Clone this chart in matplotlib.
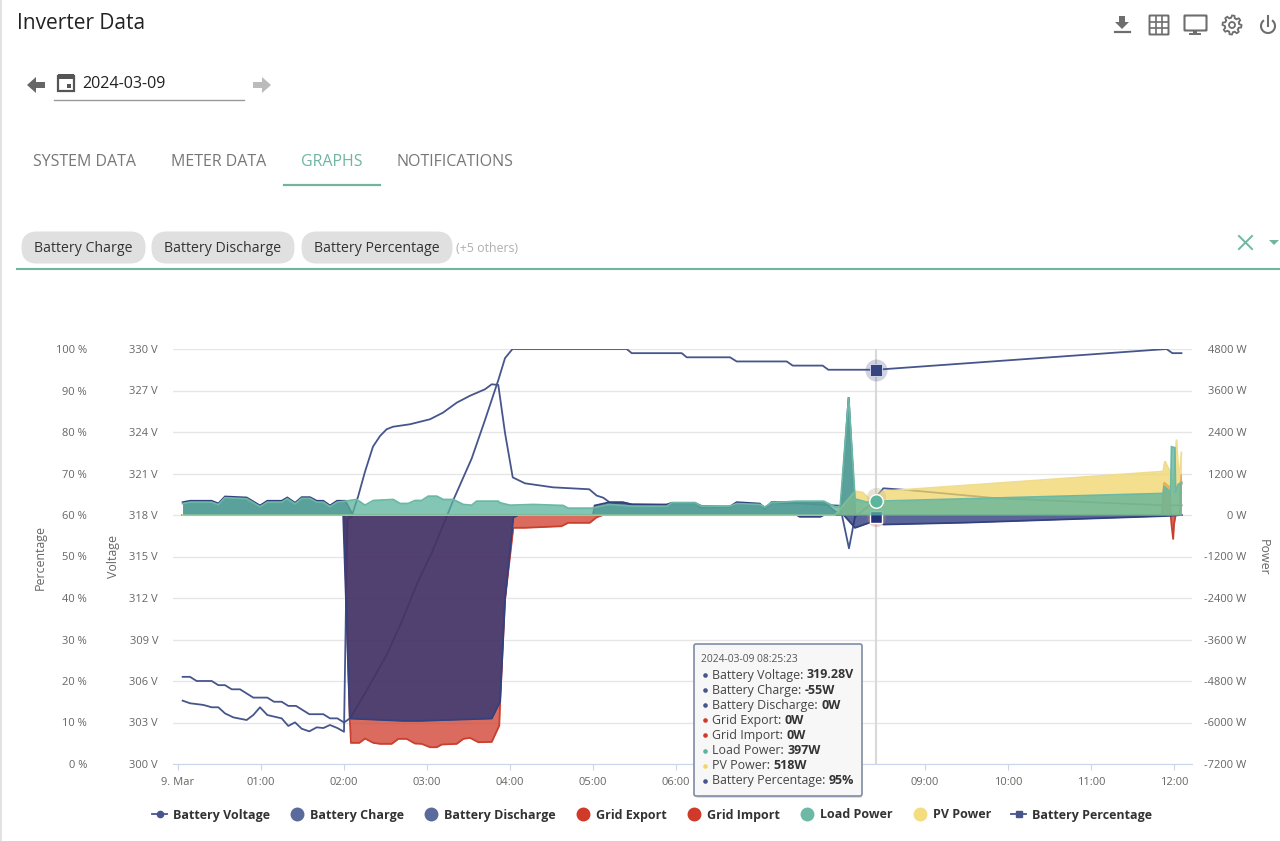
import numpy as np
import matplotlib
matplotlib.use('Agg')
import matplotlib.pyplot as plt
from matplotlib.lines import Line2D
from matplotlib.patches import FancyBboxPatch, Rectangle, Polygon, Circle, Arc

plt.rcParams['font.family'] = ['Open Sans', 'DejaVu Sans']

W, H = 1280, 841
# plot area in pixels
LEFT, RIGHT, TOP, BOTTOM = 173, 1192, 349, 764

NAVY = '#233377'
LINE = '#46568c'
RED = '#cf3a2a'
TEAL = '#5bb49c'
YELLOW = '#f1d569'
GREY = '#666666'

x_ticks = [0, 1, 2, 3, 4, 5, 6, 7, 8, 9, 10, 11, 12]
# 07:00 and 08:00 sit behind the tooltip in the screenshot
x_labels = ['9. Mar', '01:00', '02:00', '03:00', '04:00', '05:00', '06:00',
            '', '', '09:00', '10:00', '11:00', '12:00']
pct_ticks = [0, 10, 20, 30, 40, 50, 60, 70, 80, 90, 100]
volt_ticks = [300, 303, 306, 309, 312, 315, 318, 321, 324, 327, 330]
power_ticks = [-7200, -6000, -4800, -3600, -2400, -1200, 0, 1200, 2400, 3600, 4800]

# time is in hours since midnight
pct_t = [.056, .145, .225, .406, .486, .566, .647, .747, .907, 1.076, 1.157, 1.249, 1.329,
         1.422, 1.582, 1.751, 1.831, 1.92, 2.0, 2.072, 2.253, 2.514, 2.695, 2.89, 3.056,
         3.237, 3.317, 3.538, 3.699, 3.859, 3.94, 4.03, 5.406, 5.466, 6.069, 6.129, 6.651,
         6.731, 7.334, 7.406, 7.767, 7.835, 8.41, 11.91, 11.98, 12.09]
pct_v = [21, 21, 20, 20, 19, 19, 18, 18, 16, 16, 15, 15, 14, 14, 12, 12, 11, 11, 10, 11,
         17, 26.3, 34.3, 43.9, 50.8, 59.6, 63.6, 73.6, 82.9, 92.5, 97.8, 100, 100, 99,
         99, 98, 98, 97, 97, 96, 96, 95, 95, 100, 99, 99]

volt_t = [.056, .145, .306, .406, .486, .566, .667, .827, .907, .988, 1.076, 1.249, 1.329,
          1.41, 1.49, 1.582, 1.671, 1.751, 1.831, 1.92, 2.0, 2.04, 2.09, 2.169, 2.253, 2.349,
          2.434, 2.514, 2.59, 2.795, 3.036, 3.193, 3.358, 3.518, 3.699, 3.78, 3.859, 3.94,
          4.033, 4.18, 4.518, 4.955, 5.045, 5.124, 5.205, 5.36, 5.466, 5.888, 5.948, 6.229,
          6.31, 6.651, 6.731, 7.012, 7.072, 7.153, 7.454, 7.976, 8.008, 8.084, 8.157, 8.337,
          8.41, 8.498, 8.78, 9.863, 11.89, 12.09]
volt_v = [304.58, 304.39, 304.27, 304.1, 304.1, 303.66, 303.37, 303.18, 303.54, 304.1,
          303.54, 303.3, 302.75, 303.01, 302.55, 302.36, 302.65, 302.6, 302.82, 302.6,
          302.33, 317.7, 317.88, 319.32, 321.13, 322.94, 323.71, 324.2, 324.38, 324.56, 324.92,
          325.4, 326.12, 326.62, 327.09, 327.45, 327.4, 323.93, 320.72, 320.29, 320.0,
          319.86, 319.4, 319.25, 318.89, 318.89, 318.77, 318.72, 318.85, 318.85, 318.65,
          318.6, 318.85, 318.77, 318.55, 318.85, 318.85, 318.67, 317.75, 315.59, 317.88,
          318.72, 319.28, 319.93, 319.81, 319.21, 318.7, 318.7]

charge_t = [.056, 1.99, 2.07, 2.714, 2.916, 3.78, 3.88, 3.94, 4.04, 4.1, 7.454, 7.49, 7.74,
            7.78, 8.02, 8.157, 8.337, 8.41, 8.5, 9.5, 11.9, 12.09]
charge_v = [0, 0, -5885, -5953, -5953, -5885, -5403, -2444, -72, 0, 0, -50, -50, 0, 0,
            -370, -217, -55, -275, -220, -30, 0]

discharge_t = [.056, .145, .406, .486, .566, .827, .988, 1.076, 1.249, 1.317, 1.41, 1.49,
               1.59, 1.671, 1.751, 1.831, 1.916, 2.016, 2.108, 5.0, 5.02, 5.2, 5.36, 5.47,
               5.89, 5.95, 6.23, 6.31, 6.65, 6.73, 7.01, 7.07, 7.15, 7.45, 7.78, 7.92, 7.98,
               8.08, 8.16, 12.09]
discharge_v = [370, 411, 411, 333, 535, 506, 275, 411, 411, 506, 353, 515, 515, 411, 411,
               275, 411, 411, 0, 0, 275, 370, 370, 304, 304, 353, 353, 200, 246, 370, 330,
               170, 370, 370, 370, 100, 0, 3406, 0, 0]

grid_export_t = [.056, 11.85, 11.88, 11.95, 11.96, 12.07, 12.08, 12.09]
grid_export_v = [0, 0, 940, 795, 0, 0, 1170, 900]

grid_import_t = [.056, 2.0, 2.07, 2.084, 2.185, 2.253, 2.353, 2.434, 2.574, 2.655, 2.755, 2.855,
                 2.936, 3.036, 3.117, 3.177, 3.358, 3.438, 3.518, 3.618, 3.78, 3.871, 3.88,
                 3.94, 4.04, 4.18, 4.62, 4.70, 4.96, 5.045, 5.12, 11.96, 11.97, 11.99, 12.0,
                 12.02, 12.09]
grid_import_v = [0, 0, -5885, -6588, -6588, -6464, -6588, -6617, -6617, -6473, -6473, -6608,
                 -6617, -6715, -6715, -6637, -6617, -6473, -6444, -6570, -6560, -6088, -5480,
                 -2444, -370, -370, -324, -226, -226, -64, 0, 0, -275, -708, -275, 0, 0]

load_t = [.056, .145, .406, .486, .566, .827, .988, 1.076, 1.249, 1.317, 1.41, 1.49, 1.59,
          1.671, 1.751, 1.831, 1.916, 2.016, 2.153, 2.253, 2.353, 2.594, 2.675, 2.775, 2.855,
          2.936, 3.016, 3.117, 3.197, 3.317, 3.438, 3.538, 3.598, 3.859, 3.88, 4.0, 4.28,
          4.64, 4.70, 4.98, 5.04, 5.2, 5.47, 5.89, 5.95, 6.23, 6.31, 6.65, 6.73, 7.01, 7.07,
          7.15, 7.45, 7.78, 7.94, 7.98, 8.08, 8.16, 8.18, 8.3, 8.41, 11.86, 11.87, 11.88,
          11.91, 11.96, 11.97, 12.01, 12.02, 12.05, 12.09]
load_v = [330, 370, 370, 300, 500, 470, 240, 370, 370, 470, 320, 480, 480, 370, 370, 240,
          370, 400, 448, 283, 419, 448, 333, 333, 419, 419, 544, 544, 448, 448, 304, 283,
          400, 400, 353, 283, 304, 275, 197, 197, 226, 304, 255, 255, 353, 353, 255, 255,
          330, 304, 226, 353, 399, 399, 208, 283, 3406, 361, 450, 370, 397, 622, 593, 833,
          770, 640, 1972, 1943, 640, 882, 940]

pv_t = [.056, 7.916, 8.157, 8.25, 8.337, 8.41, 8.5, 11.87, 11.89, 11.95, 11.99, 12.03, 12.06, 12.09]
pv_v = [0, 0, 688, 650, 450, 518, 688, 1258, 1556, 1267, 833, 2183, 977, 1807]

cursor_t = 8.41
tooltip_time = '2024-03-09 08:25:23'
tooltip_names = ['Battery Voltage', 'Battery Charge', 'Battery Discharge', 'Grid Export',
                 'Grid Import', 'Load Power', 'PV Power', 'Battery Percentage']
tooltip_values = ['319.28V', '-55W', '0W', '0W', '0W', '397W', '518W', '95%']
tooltip_colors = [LINE, LINE, LINE, RED, RED, TEAL, YELLOW, LINE]
chips = ['Battery Charge', 'Battery Discharge', 'Battery Percentage']
tabs = ['SYSTEM DATA', 'METER DATA', 'GRAPHS', 'NOTIFICATIONS']


def area(ax, t, v, color, zorder, line=None):
    ax.fill_between(t, 0, v, color=color, alpha=.75, lw=0, zorder=zorder)
    ax.plot(t, v, color=line or color, lw=1.3, zorder=zorder + .1, solid_joinstyle='miter')


fig = plt.figure(figsize=(W / 100, H / 100), dpi=100)
rect = [LEFT / W, 1 - BOTTOM / H, (RIGHT - LEFT) / W, (BOTTOM - TOP) / H]
# the two line series sit under the filled power areas
ax_w = fig.add_axes(rect)
ax_v = ax_w.twinx()
ax_p = ax_w.twinx()
ax_v.set_zorder(1)
ax_p.set_zorder(1.5)
ax_w.set_zorder(2)
ax_w.patch.set_visible(False)
ax_p.patch.set_visible(False)

xmin, xmax = (LEFT - 178) / 83, (RIGHT - 178) / 83
ax_w.set_xlim(xmin, xmax)
ax_w.set_ylim(-7200, 4800)
ax_v.set_ylim(300, 330)
ax_p.set_ylim(0, 100)

for a in (ax_w, ax_v, ax_p):
    for s in a.spines.values():
        s.set_visible(False)

# power axis on the right
ax_w.yaxis.tick_right()
ax_w.set_yticks(power_ticks)
ax_w.set_yticklabels(['%d W' % p for p in power_ticks])
ax_w.tick_params(axis='y', length=0, pad=39, labelsize=8, labelcolor=GREY)
for l in ax_w.get_yticklabels():
    l.set_ha('right')
ax_w.spines['bottom'].set_visible(True)
ax_w.spines['bottom'].set_color('#ccd6eb')
ax_w.set_xticks(x_ticks)
ax_w.set_xticklabels(x_labels)
ax_w.tick_params(axis='x', length=4, color='#ccd6eb', labelsize=8, labelcolor=GREY, pad=5.5)

ax_v.yaxis.tick_left()
ax_v.set_yticks(volt_ticks)
ax_v.set_yticklabels(['%d V' % v for v in volt_ticks])
ax_v.tick_params(axis='y', length=0, pad=10.8, labelsize=8, labelcolor=GREY)
ax_v.grid(axis='y', color='#e6e6e6', lw=1)
ax_v.set_axisbelow(True)

ax_p.yaxis.tick_left()
ax_p.set_yticks(pct_ticks)
ax_p.set_yticklabels(['%d %%' % p for p in pct_ticks])
ax_p.tick_params(axis='y', length=0, pad=62, labelsize=8, labelcolor=GREY)

ax_v.axvline(cursor_t, color='#d9d9d9', lw=1.5, zorder=1)

area(ax_w, grid_export_t, grid_export_v, RED, 2, '#c9402f')
area(ax_w, grid_import_t, grid_import_v, RED, 2.2, '#c9402f')
area(ax_w, charge_t, charge_v, NAVY, 3, '#34417f')
area(ax_w, discharge_t, discharge_v, NAVY, 3.2, '#34417f')
area(ax_w, pv_t, pv_v, YELLOW, 4, '#f0dc8c')
area(ax_w, load_t, load_v, TEAL, 5, '#6bb8a4')

# hover markers at the cursor
ax_w.scatter([cursor_t], [518], s=190, color='#c9c2a0', alpha=.45, lw=0, zorder=6)
ax_w.scatter([cursor_t], [-55], s=190, color='#c77', alpha=.35, lw=0, zorder=3.5)
ax_w.scatter([cursor_t], [-55], s=75, marker='s', color=NAVY, edgecolor='white', lw=1, zorder=4.5)
ax_w.scatter([cursor_t], [397], s=95, color=TEAL, edgecolor='white', lw=1, zorder=7)

ax_v.plot(volt_t, volt_v, color=LINE, lw=1.3)
ax_p.plot(pct_t, pct_v, color=LINE, lw=1.3)
ax_p.scatter([cursor_t], [95], s=250, color=LINE, alpha=.25, lw=0, zorder=5)
ax_p.scatter([cursor_t], [95], s=75, marker='s', color='#34457f', edgecolor='#dfe3ee', lw=.6, zorder=6)

fig.text(40 / W, 1 - 558 / H, 'Percentage', rotation=90, ha='center', va='center', fontsize=8.9, color=GREY)
fig.text(114 / W, 1 - 557 / H, 'Voltage', rotation=90, ha='center', va='center', fontsize=8.9, color=GREY)
fig.text(1263 / W, 1 - 557 / H, 'Power', rotation=-90, ha='center', va='center', fontsize=8.9, color=GREY)

handles = [
    Line2D([], [], color=LINE, lw=1.3, marker='o', ms=4.5),
    Line2D([], [], color='#5a6a9a', ls='none', marker='o', ms=9),
    Line2D([], [], color='#5a6a9a', ls='none', marker='o', ms=9),
    Line2D([], [], color=RED, ls='none', marker='o', ms=9),
    Line2D([], [], color=RED, ls='none', marker='o', ms=9),
    Line2D([], [], color='#6db9a5', ls='none', marker='o', ms=9),
    Line2D([], [], color='#f3dd7f', ls='none', marker='o', ms=9),
    Line2D([], [], color=LINE, lw=1.3, marker='s', ms=5),
]
fig.legend(handles, tooltip_names, ncol=8, frameon=False, loc='center',
           bbox_to_anchor=(652 / W, 1 - 815 / H), handlelength=1.2, handletextpad=.42,
           columnspacing=1.6, borderpad=0, labelcolor='#333333',
           prop={'family': 'Open Sans', 'weight': 'bold', 'size': 9})

# page furniture and tooltip, drawn in pixel coordinates
ui = fig.add_axes([0, 0, 1, 1], zorder=10)
ui.set_xlim(0, W)
ui.set_ylim(H, 0)
ui.axis('off')

ui.add_patch(Rectangle((0, 0), 1.5, H, color='#e2e2e2', lw=0))
ui.text(17, 23, 'Inverter Data', fontsize=15, color='#222222', va='center')
ui.text(82, 84, '2024-03-09', fontsize=11.6, color='#222222', va='center')
ui.plot([54, 244], [99.5, 99.5], color='#999999', lw=1)

for cx, direction, c in [(36, -1, '#666666'), (262, 1, '#bbbbbb')]:
    pts = [(-9, -3), (0, -3), (0, -8), (9, 0), (0, 8), (0, 3), (-9, 3)]
    ui.add_patch(Polygon([(cx + direction * px, 85 + py) for px, py in pts], color=c, lw=0))

# calendar icon
ui.add_patch(Rectangle((58, 76), 16, 15, fc='none', ec='#555555', lw=1.6))
ui.add_patch(Rectangle((58, 74), 16, 5, color='#555555', lw=0))
ui.add_patch(Rectangle((67, 84), 4, 4, color='#555555', lw=0))

tab_x = [33, 171, 301, 396]
for name, x in zip(tabs, tab_x):
    ui.text(x, 162, name, fontsize=11.5, color='#6fb5a2' if name == 'GRAPHS' else '#777777', va='center')
ui.plot([284, 380], [184.5, 184.5], color='#6fb5a2', lw=1.6)

chip_x = [(22, 145), (152, 294), (302, 452)]
for name, (x0, x1) in zip(chips, chip_x):
    ui.add_patch(FancyBboxPatch((x0 + 15, 232 + 15), x1 - x0 - 30, 1, boxstyle='round,pad=15.5',
                                fc='#e0e0e0', ec='none', mutation_aspect=1))
    ui.text((x0 + x1) / 2, 248, name, fontsize=10.2, color='#333333', ha='center', va='center')
ui.text(456, 248, '(+5 others)', fontsize=8.9, color='#b0b0b0', va='center')
ui.plot([17, 1280], [268.5, 268.5], color='#6fb5a2', lw=1.5)
ui.plot([1239, 1252], [236, 249], color='#6fb5a2', lw=1.4)
ui.plot([1239, 1252], [249, 236], color='#6fb5a2', lw=1.4)
ui.add_patch(Polygon([(1269, 240), (1279, 240), (1274, 245)], color='#6fb5a2', lw=0))

# toolbar icons
ic = '#6e6e6e'
ui.add_patch(Polygon([(1119, 16), (1125, 16), (1125, 22), (1129, 22), (1122, 29), (1115, 22), (1119, 22)], color=ic, lw=0))
ui.plot([1115, 1130], [32, 32], color=ic, lw=1.6)
ui.add_patch(FancyBboxPatch((1150, 16), 18, 18, boxstyle='round,pad=0.5', fc='none', ec=ic, lw=1.4))
for d in (6, 12):
    ui.plot([1150 + d, 1150 + d], [16, 34], color=ic, lw=1.2)
    ui.plot([1150, 1168], [16 + d, 16 + d], color=ic, lw=1.2)
ui.add_patch(FancyBboxPatch((1185, 16), 21, 14, boxstyle='round,pad=0.5', fc='none', ec=ic, lw=1.5))
ui.add_patch(Rectangle((1193, 30), 4, 3, color=ic, lw=0))
ui.plot([1190, 1200], [34, 34], color=ic, lw=1.4)
gear_a = np.linspace(0, 2 * np.pi, 49)
gear_r = np.where(np.arange(49) % 6 < 3, 9.5, 7.2)
ui.add_patch(Polygon(np.column_stack([1232 + gear_r * np.cos(gear_a), 25 + gear_r * np.sin(gear_a)]),
                     fc='none', ec=ic, lw=1.3))
ui.add_patch(Circle((1232, 25), 3, fc='none', ec=ic, lw=1.3))
ui.add_patch(Arc((1268, 26), 14, 14, theta1=-55, theta2=235, ec=ic, lw=1.5))
ui.plot([1268, 1268], [16, 26], color=ic, lw=1.5)

# tooltip
ui.add_patch(FancyBboxPatch((696, 646), 166, 152, boxstyle='round,pad=0,rounding_size=2', fc='#bbbbbb', ec='none', alpha=.5))
ui.add_patch(FancyBboxPatch((694, 644), 168, 152, boxstyle='round,pad=0,rounding_size=2', fc='#f7f7f7', ec='#7f8ca6', lw=1.2))
ui.text(701, 660, tooltip_time, fontsize=7.4, color='#555555', va='center')
fig.canvas.draw()
rend = fig.canvas.get_renderer()
for i, (name, val, col) in enumerate(zip(tooltip_names, tooltip_values, tooltip_colors)):
    y = 675 + i * 15.1
    ui.scatter([705], [y], s=11, color=col, lw=0)
    t = ui.text(712, y, name + ':', fontsize=8.9, color='#444444', va='center')
    bb = t.get_window_extent(rend)
    ui.text(bb.x1 + 3.5, y, val, fontsize=9, color='#333333', va='center', fontweight='bold')

fig.savefig('out.png', dpi=100)
